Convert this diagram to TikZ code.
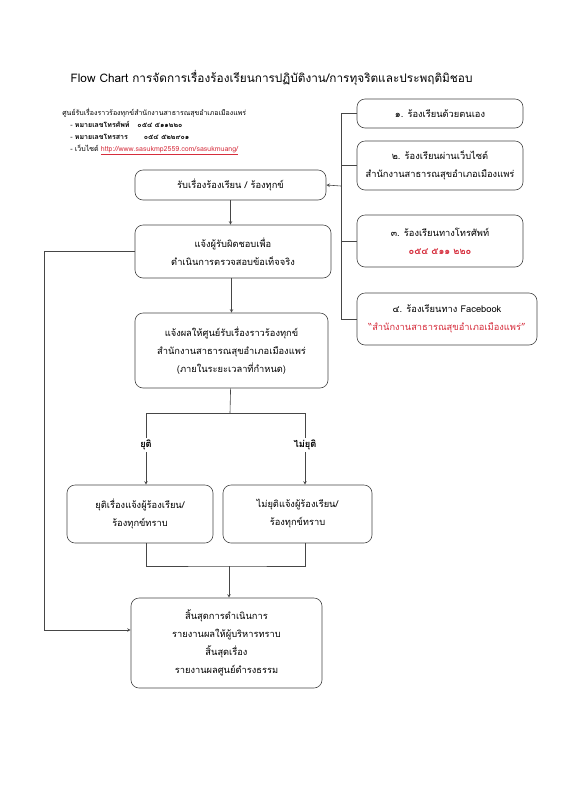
\documentclass[tikz,border=0pt]{standalone}
\usepackage{fontspec}
\setmainfont[Script=Thai]{Loma}
\usetikzlibrary{positioning}
\definecolor{linegray}{RGB}{70,70,70}
\definecolor{redtxt}{RGB}{214,45,60}
\tikzset{
	flowbox/.style={draw=linegray, rounded corners=8pt, align=center, inner sep=2pt, font=\fontsize{9.3}{18}\selectfont},
	srcbox/.style={flowbox, minimum width=166pt},
	branchlabel/.style={fill=white, inner sep=2pt, font=\fontsize{9.3}{10}\selectfont\bfseries}
}
\begin{document}
\begin{tikzpicture}[x=1pt, y=-1pt, >=stealth, line width=0.6pt, draw=linegray]
\useasboundingbox[fill=white] (0,0) rectangle (588,804);

% title and info
\node[anchor=west, font=\fontsize{11.8}{14}\selectfont] (title) at (67,78) {Flow Chart การจัดการเรื่องร้องเรียนการปฏิบัติงาน/การทุจริตและประพฤติมิชอบ};
\node[anchor=north west, align=left, inner sep=0pt, font=\fontsize{7}{12}\selectfont] (info) at (62,108)
	{ศูนย์รับเรื่องราวร้องทุกข์สำนักงานสาธารณสุขอำเภอเมืองแพร่\\
	\hspace*{8pt}- \textbf{หมายเลขโทรศัพท์}\hspace{8pt}\textbf{๐๕๔ ๕๑๑๒๒๐}\\
	\hspace*{8pt}- \textbf{หมายเลขโทรสาร}\hspace{16pt}\textbf{๐๕๔ ๕๒๒๙๐๑}\\
	\hspace*{8pt}- เว็บไซต์ \textcolor{redtxt}{\underline{http://www.sasukmp2559.com/sasukmuang/}}};

% ways to complain
\node[srcbox, minimum height=29pt] (src1) at (440,113.5) {๑. ร้องเรียนด้วยตนเอง};
\node[srcbox, minimum height=49pt] (src2) at (440,165.5) {๒. ร้องเรียนผ่านเว็บไซต์\\ สำนักงานสาธารณสุขอำเภอเมืองแพร่};
\node[srcbox, minimum height=52pt] (src3) at (440,241) {๓. ร้องเรียนทางโทรศัพท์\\ \textcolor{redtxt}{\textbf{๐๕๔ ๕๑๑ ๒๒๐}}};
\node[flowbox, minimum width=180pt, minimum height=52pt] (src4) at (447,319) {๔. ร้องเรียนทาง Facebook\\ \textcolor{redtxt}{“สำนักงานสาธารณสุขอำเภอเมืองแพร่”}};

% main flow
\node[flowbox, minimum width=191pt, minimum height=30pt] (recv) at (230.5,185) {รับเรื่องร้องเรียน / ร้องทุกข์};
\node[flowbox, minimum width=196pt, minimum height=53pt] (check) at (233,251.5) {แจ้งผู้รับผิดชอบเพื่อ\\ ดำเนินการตรวจสอบข้อเท็จจริง};
\node[flowbox, minimum width=193pt, minimum height=75pt] (report) at (231.5,350.5) {แจ้งผลให้ศูนย์รับเรื่องราวร้องทุกข์\\ สำนักงานสาธารณสุขอำเภอเมืองแพร่\\ (ภายในระยะเวลาที่กำหนด)};

\coordinate (split) at (230,413);
\node[branchlabel] (yes) at (146,445) {ยุติ};
\node[branchlabel] (no) at (305,445) {ไม่ยุติ};

\node[flowbox, minimum width=146pt, minimum height=58pt] (endyes) at (140,514) {ยุติเรื่องแจ้งผู้ร้องเรียน/\\ ร้องทุกข์ทราบ};
\node[flowbox, minimum width=149pt, minimum height=58pt] (endno) at (297.5,514) {ไม่ยุติแจ้งผู้ร้องเรียน/\\ ร้องทุกข์ทราบ};

\coordinate (join) at (229,566);
\node[flowbox, minimum width=191pt, minimum height=90pt] (final) at (226.5,643) {สิ้นสุดการดำเนินการ\\ รายงานผลให้ผู้บริหารทราบ\\ สิ้นสุดเรื่อง\\ รายงานผลศูนย์ดำรงธรรม};

% connectors
\coordinate (bus) at (341,186);
\draw (src1.west) -| (bus |- src4.west) -- (src4.west);
\foreach \s in {src2,src3}
	\draw (\s.west) -- (\s.west -| bus);
\draw[->] (bus) -- (recv.east);
\draw[->] (recv) -- (recv |- check.north);
\draw[->] (check.south -| report) -- (report.north);
\draw (report) -- (split);
\draw (split) -| (yes);
\draw (split) -| (no);
\draw[->] (yes) -- (yes |- endyes.north);
\draw[->] (no) -- (no |- endno.north);
\draw (yes |- endyes.south) |- (join) -| (no |- endno.south);
\draw[->] (join) -- (join |- final.north);
\draw[->] (check.west) -- ++(-90,0) |- ([yshift=13pt]final.west);
\end{tikzpicture}
\end{document}
